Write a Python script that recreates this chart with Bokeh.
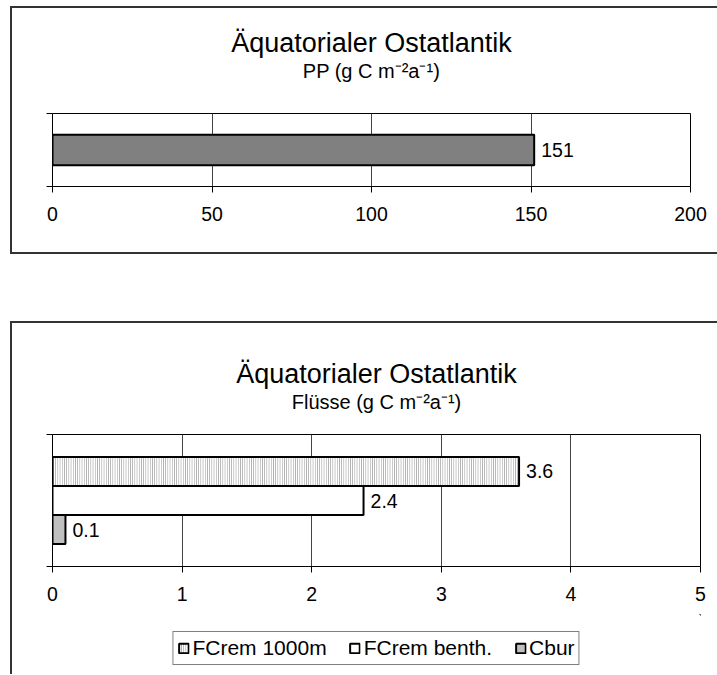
from bokeh.plotting import figure
from bokeh.models import (ColumnDataSource, FixedTicker, Title, Legend, LegendItem,
                          LabelSet, Range1d)
from bokeh.core.properties import value
from bokeh.layouts import column
from bokeh.embed import file_html
from bokeh.resources import INLINE

FONT = "Liberation Sans"

# ---------------- data ----------------
chart_title = "Äquatorialer Ostatlantik"

pp_subtitle = "PP (g C m⁻²a⁻¹)"
pp_categories = ["PP"]
pp_values = [151]
pp_ticks = [0, 50, 100, 150, 200]

flux_subtitle = "Flüsse (g C m⁻²a⁻¹)"
flux_names = ["FCrem 1000m", "FCrem benth.", "Cbur"]
flux_values = [3.6, 2.4, 0.1]
flux_ticks = [0, 1, 2, 3, 4, 5]

FRAME = {"border-left": "2px solid #333", "border-top": "2px solid #333"}


def style_axes(p, ticks):
    p.xaxis.ticker = FixedTicker(ticks=ticks)
    p.xaxis.major_tick_out = 6
    p.xaxis.major_tick_in = 0
    p.xaxis.minor_tick_line_color = None
    p.xaxis.axis_line_color = "black"
    p.xaxis.major_tick_line_color = "black"
    p.xaxis.major_label_text_font = FONT
    p.xaxis.major_label_text_font_size = "19.5px"
    p.xaxis.major_label_text_color = "black"
    p.xaxis.major_label_standoff = 14
    p.yaxis.ticker = FixedTicker(ticks=[0, 1])
    p.yaxis.major_tick_out = 6
    p.yaxis.major_tick_in = 0
    p.yaxis.minor_tick_line_color = None
    p.yaxis.axis_line_color = "black"
    p.yaxis.major_tick_line_color = "black"
    p.yaxis.major_label_overrides = {0: "", 1: ""}
    p.yaxis.major_label_standoff = 0
    p.xgrid.grid_line_color = "#444444"
    p.xgrid.grid_line_width = 1
    p.ygrid.grid_line_color = None
    p.outline_line_color = "black"
    p.outline_line_width = 1
    p.background_fill_color = "white"
    p.border_fill_color = "white"


def add_titles(p, sub, gap):
    # blank spacer between subtitle and plot area
    p.add_layout(Title(text=" ", text_font=FONT, text_font_size="10px", standoff=gap), "above")
    p.add_layout(Title(text=sub, align="center", text_font=FONT, text_font_size="20px",
                       text_font_style="normal", text_color="black", standoff=0), "above")
    p.add_layout(Title(text=chart_title, align="center", text_font=FONT, text_font_size="27px",
                       text_font_style="normal", text_color="black", standoff=0), "above")


# ---------------- top chart ----------------
p1 = figure(frame_width=636, frame_height=69, x_range=Range1d(pp_ticks[0], pp_ticks[-1]),
            y_range=Range1d(0, 1), output_backend="svg", toolbar_location=None,
            min_border_left=40, min_border_right=29, min_border_top=105, min_border_bottom=70)
p1.styles = dict(FRAME, **{"border-bottom": "2px solid #333"})
style_axes(p1, pp_ticks)
add_titles(p1, pp_subtitle, 19)

src1 = ColumnDataSource(dict(y=[0.5 + i for i in range(len(pp_categories))],
                             v=pp_values, lab=[str(v) for v in pp_values]))
p1.hbar(y="y", left=0, right="v", height=0.42, source=src1,
        fill_color="#808080", line_color="black", line_width=2)
p1.add_layout(LabelSet(x="v", y="y", text="lab", source=src1, x_offset=7,
                       text_baseline="middle", text_font=value(FONT), text_font_size="19.5px",
                       text_color="black"))

# ---------------- bottom chart ----------------
p2 = figure(frame_width=646, frame_height=130,
            x_range=Range1d(flux_ticks[0], flux_ticks[-1]),
            y_range=Range1d(0, 1), output_backend="svg", toolbar_location=None,
            min_border_left=39, min_border_right=20, min_border_top=111, min_border_bottom=50)
p2.styles = dict(FRAME, **{"margin-top": "67px"})
style_axes(p2, flux_ticks)
add_titles(p2, flux_subtitle, 9)

# legend strip under the bottom chart (same frame columns); its ranges keep the
# key's bars out of sight so only the legend shows
p3 = figure(frame_width=646, frame_height=60,
            x_range=Range1d(-20, -15), y_range=Range1d(-20, -19),
            output_backend="svg", toolbar_location=None,
            x_axis_location=None, y_axis_location=None,
            min_border_left=39, min_border_right=20, min_border_top=0, min_border_bottom=0)
p3.styles = {"border-left": "2px solid #333"}
p3.grid.visible = False
p3.outline_line_color = None
p3.background_fill_color = "white"
p3.border_fill_color = "white"

bar_h = 0.22
n = len(flux_names)
fills = ["white", "white", "#c0c0c0"]
hatches = ["vertical_line", None, None]
items = []
for i, (name, val) in enumerate(zip(flux_names, flux_values)):
    yc = 0.5 + ((n - 1) / 2 - i) * bar_h
    s = ColumnDataSource(dict(y=[yc], v=[val], lab=[str(val)]))
    kw = dict(fill_color=fills[i], line_color="black", line_width=2)
    if hatches[i]:
        kw.update(hatch_pattern=hatches[i], hatch_color="#999999", hatch_scale=2.2, hatch_weight=1)
    p2.hbar(y="y", left=0, right="v", height=bar_h, source=s, **kw)
    p2.add_layout(LabelSet(x="v", y="y", text="lab", source=s, x_offset=7,
                           text_baseline="middle", text_font=value(FONT), text_font_size="19.5px",
                           text_color="black"))
    r = p3.hbar(y="y", left=0, right="v", height=bar_h, source=s, **kw)
    items.append(LegendItem(label=name, renderers=[r]))

legend = Legend(items=items, orientation="horizontal", location="top_center",
                border_line_color="black", border_line_width=1, background_fill_color="white",
                background_fill_alpha=1, label_text_font=FONT, label_text_font_size="21px",
                label_text_color="black", glyph_width=12, glyph_height=12, label_standoff=3,
                spacing=22, padding=4, margin=17)
p3.add_layout(legend, "center")

layout = column(p1, p2, p3, spacing=0, styles={"margin-left": "10px", "margin-top": "6px"})
open("out.html", "w").write(file_html(layout, INLINE))
